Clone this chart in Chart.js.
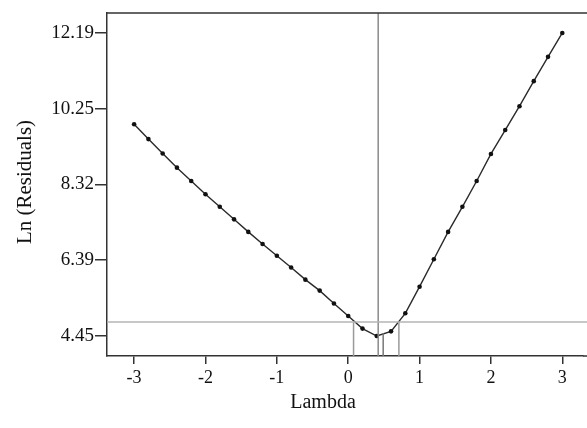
<!DOCTYPE html>
<html>
<head>
<meta charset="utf-8">
<script src="https://cdn.jsdelivr.net/npm/chart.js@4.4.1/dist/chart.umd.min.js"></script>
<style>
  html, body { margin: 0; padding: 0; background: #fff; }
  #wrap { width: 587px; height: 428px; }
</style>
</head>
<body>
<div id="wrap"><canvas id="boxcox"></canvas></div>
<script>
// Box-Cox plot data
var lambdaVals = [-3, -2.8, -2.6, -2.4, -2.2, -2, -1.8, -1.6, -1.4, -1.2, -1, -0.8, -0.6, -0.4, -0.2,
                  0, 0.2, 0.4, 0.6, 0.8, 1, 1.2, 1.4, 1.6, 1.8, 2, 2.2, 2.4, 2.6, 2.8, 3];
var lnResiduals = [9.86, 9.48, 9.11, 8.75, 8.41, 8.07, 7.75, 7.43, 7.11, 6.80, 6.50, 6.20, 5.89, 5.61, 5.28,
                   4.96, 4.64, 4.45, 4.57, 5.03, 5.71, 6.41, 7.11, 7.75, 8.41, 9.10, 9.71, 10.32, 10.96, 11.58, 12.19];
var yTickVals = [4.45, 6.39, 8.32, 10.25, 12.19];
var xTickVals = [-3, -2, -1, 0, 1, 2, 3];

// reference lines: best lambda, CI limits, critical level
var bestLambda = 0.42;
var roundedLambda = 0.49;
var ciLow = 0.075, ciHigh = 0.71;
var critLevel = 4.81;
var minResidual = 4.52;

var xMin = -3.38, xMax = 3.29, yMin = 3.94, yMax = 12.70;

var points = lambdaVals.map(function(l, i) { return { x: l, y: lnResiduals[i] }; });

var frame = {
    id: 'frame',
    afterDraw: function(chart) {
        var c = chart.ctx, a = chart.chartArea;
        c.save();
        c.strokeStyle = '#333';
        c.lineWidth = 1.5;
        c.beginPath();
        c.moveTo(a.left, a.top);
        c.lineTo(587, a.top);
        c.moveTo(a.right, a.bottom);
        c.lineTo(587, a.bottom);
        c.stroke();
        c.fillStyle = '#111';
        c.textAlign = 'center';
        c.textBaseline = 'middle';
        c.font = '20px "Liberation Serif"';
        c.fillText('Lambda', 323, 403);
        c.font = '21px "Liberation Serif"';
        c.translate(25, 182);
        c.rotate(-Math.PI / 2);
        c.fillText('Ln (Residuals)', 0, 0);
        c.restore();
    }
};

var refColor = '#9a9a9a';
var ctx = document.getElementById('boxcox').getContext('2d');
var chart = new Chart(ctx, {
    type: 'scatter',
    data: {
        datasets: [
            { data: [{x: xMin, y: critLevel}, {x: 3.36, y: critLevel}], showLine: true, clip: false, borderColor: '#b4b4b4', borderWidth: 1.5, pointRadius: 0 },
            { data: [{x: bestLambda, y: yMin}, {x: bestLambda, y: yMax}], showLine: true, borderColor: '#8a8a8a', borderWidth: 1.5, pointRadius: 0 },
            { data: [{x: ciLow, y: yMin}, {x: ciLow, y: critLevel}], showLine: true, borderColor: refColor, borderWidth: 1.5, pointRadius: 0 },
            { data: [{x: ciHigh, y: yMin}, {x: ciHigh, y: critLevel}], showLine: true, borderColor: refColor, borderWidth: 1.5, pointRadius: 0 },
            { data: [{x: roundedLambda, y: yMin}, {x: roundedLambda, y: minResidual}], showLine: true, borderColor: '#777', borderWidth: 1.5, pointRadius: 0 },
            {
                data: points,
                showLine: true,
                borderColor: '#2a2a2a',
                borderWidth: 1.4,
                backgroundColor: '#111',
                pointRadius: 2.3,
                pointBorderWidth: 0
            }
        ]
    },
    options: {
        responsive: true,
        maintainAspectRatio: false,
        animation: false,
        layout: { padding: { top: 13, right: 0, left: 0, bottom: 0 } },
        plugins: { legend: { display: false }, tooltip: { enabled: false } },
        scales: {
            x: {
                type: 'linear',
                min: xMin,
                max: xMax,
                afterBuildTicks: function(s) { s.ticks = xTickVals.map(function(v) { return { value: v }; }); },
                afterFit: function(s) { s.height = 72; },
                grid: { drawOnChartArea: false, drawTicks: true, tickLength: 8, color: '#333', lineWidth: 1.5 },
                border: { display: true, color: '#333', width: 1.5 },
                ticks: { color: '#111', font: { family: 'Liberation Serif', size: 18 }, padding: 3, maxRotation: 0 }
            },
            y: {
                min: yMin,
                max: yMax,
                afterBuildTicks: function(s) { s.ticks = yTickVals.map(function(v) { return { value: v }; }); },
                afterFit: function(s) { s.width = 107; },
                grid: { drawOnChartArea: false, drawTicks: true, tickLength: 12, color: '#333', lineWidth: 1.5 },
                border: { display: true, color: '#333', width: 1.5 },
                ticks: {
                    color: '#111',
                    font: { family: 'Liberation Serif', size: 19 },
                    padding: 1,
                    callback: function(v) { return v.toFixed(2); }
                }
            }
        }
    },
    plugins: [frame]
});
</script>
</body>
</html>
